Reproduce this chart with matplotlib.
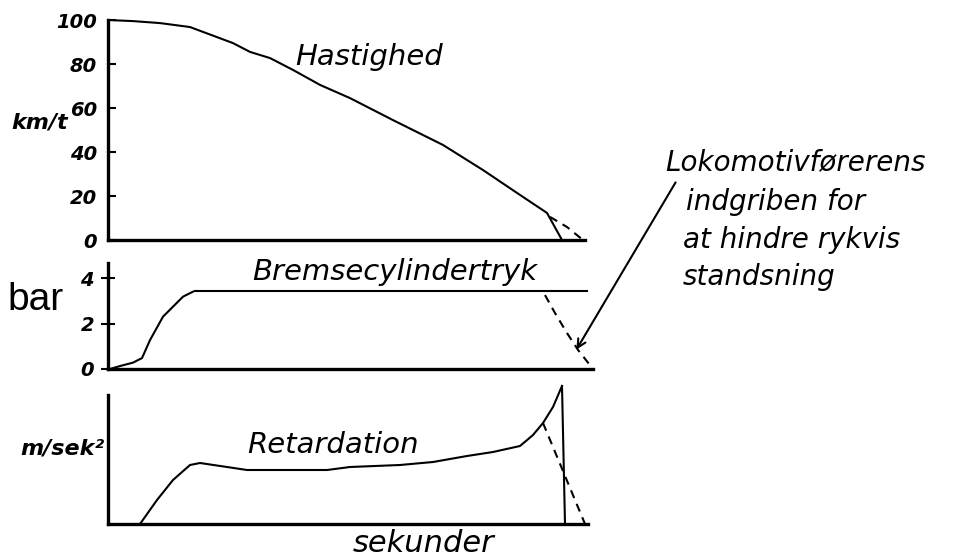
import matplotlib
matplotlib.use("Agg")
import matplotlib.pyplot as plt

# --- data (t in s, arbitrary scale) ---
speed_t = [0, 2.5, 5.2, 8.2, 12.5, 14.2, 16.2, 18.5, 21.2, 24.2, 28.5, 33.5, 37.5, 40.9, 43.9, 45.4]
speed_v = [100, 99.5, 98.6, 96.8, 89.5, 85.5, 82.7, 77.3, 70.5, 64.5, 54.5, 43.2, 31.8, 21.4, 12.3, 0]
speed_dash_t = [44.2, 45.9, 47.5]
speed_dash_v = [10.5, 5.9, 0]

press_t = [0, 0.2, 1.2, 2.5, 3.4, 4.2, 5.5, 6.5, 7.5, 8.5]
press_p = [0, 0.0, 0.13, 0.28, 0.48, 1.27, 2.3, 2.74, 3.18, 3.4]
press_plateau_t = [8.7, 47.9]
press_plateau_p = [3.44, 3.44]
press_dash_t = [43.7, 44.7, 45.9, 47.0, 48.5]
press_dash_p = [3.25, 2.46, 1.58, 0.84, 0]

ret_t = [3.2, 4.9, 6.5, 8.2, 9.2, 11.9, 13.9, 17.5, 21.9, 24.2, 29.2, 32.5, 35.9,
         38.5, 41.2, 42.5, 43.5, 44.5, 45.4]
ret_a = [0, 0.24, 0.44, 0.59, 0.61, 0.57, 0.54, 0.54, 0.54, 0.57, 0.59, 0.62, 0.68,
         0.72, 0.78, 0.89, 1.01, 1.17, 1.38]
ret_drop_t = [45.4, 45.7]
ret_drop_a = [1.38, 0]
ret_dash_t = [43.5, 47.7]
ret_dash_a = [1.01, 0]

speed_ticks = [0, 20, 40, 60, 80, 100]
press_ticks = [0, 2, 4]

W, H = 962, 557


def px(x, y):
    """pixel position -> figure fraction"""
    return x / W, 1 - y / H


def box(x0, y_bottom, x1, y_top):
    return [x0 / W, 1 - y_bottom / H, (x1 - x0) / W, (y_bottom - y_top) / H]


HAND = dict(family="DejaVu Sans", style="italic", color="black")
TICKF = dict(family="DejaVu Sans", style="italic", weight="bold", size=14)
LW = 1.5
DASH = (0, (4, 3))

fig = plt.figure(figsize=(W / 100, H / 100), dpi=100)
XMAX = 48.5

ax1 = fig.add_axes(box(108, 240, 593, 20))
ax2 = fig.add_axes(box(108, 369, 593, 263))
ax3 = fig.add_axes(box(108, 524, 593, 395))

for ax in (ax1, ax2, ax3):
    ax.set_xlim(0, XMAX)
    for s in ("top", "right"):
        ax.spines[s].set_visible(False)
    for s in ("left", "bottom"):
        ax.spines[s].set_linewidth(2.4)
    ax.set_xticks([])
    ax.patch.set_alpha(0)

# speed
ax1.plot(speed_t, speed_v, color="black", lw=LW, clip_on=False, solid_joinstyle="round")
ax1.plot(speed_dash_t, speed_dash_v, color="black", lw=LW, ls=DASH, clip_on=False)
ax1.set_ylim(0, 100)
ax1.spines["bottom"].set_bounds(0, 47.7)
ax1.set_yticks(speed_ticks)
ax1.set_yticklabels([str(v) for v in speed_ticks], fontdict=TICKF)
ax1.tick_params(axis="y", direction="in", length=6, width=1.5, pad=8)

# brake cylinder pressure
ax2.plot(press_t, press_p, color="black", lw=LW, clip_on=False, solid_joinstyle="round")
ax2.plot(press_plateau_t, press_plateau_p, color="black", lw=LW, clip_on=False)
ax2.plot(press_dash_t, press_dash_p, color="black", lw=LW, ls=DASH, clip_on=False)
ax2.set_ylim(0, 4.66)
ax2.set_yticks(press_ticks)
ax2.set_yticklabels([str(v) for v in press_ticks], fontdict=TICKF)
ax2.tick_params(axis="y", direction="inout", length=10, width=1.5, pad=5)

# retardation
ax3.plot(ret_t, ret_a, color="black", lw=LW, clip_on=False, solid_joinstyle="round")
ax3.plot(ret_drop_t, ret_drop_a, color="black", lw=LW, clip_on=False)
ax3.plot(ret_dash_t, ret_dash_a, color="black", lw=LW, ls=DASH, clip_on=False)
ax3.set_ylim(0, 1.29)
ax3.spines["bottom"].set_bounds(0, 48.0)
ax3.set_yticks([])

# labels
fig.text(*px(295, 65), "Hastighed", fontsize=21, ha="left", va="baseline", **HAND)
fig.text(*px(252, 280), "Bremsecylindertryk", fontsize=21, ha="left", va="baseline", **HAND)
fig.text(*px(247, 453), "Retardation", fontsize=21, ha="left", va="baseline", **HAND)
fig.text(*px(353, 552), "sekunder", fontsize=22, ha="left", va="baseline", **HAND)

fig.text(*px(40, 122), "km/t", fontsize=16, ha="center", va="center", weight="bold", **HAND)
fig.text(*px(36, 300), "bar", fontsize=28, ha="center", va="center",
         family="Liberation Sans", color="black")
fig.text(*px(62, 448), "m/sek²", fontsize=16, ha="center", va="center", weight="bold", **HAND)

note_lines = [(665, 170, "Lokomotivførerens"),
              (686, 210, "indgriben for"),
              (683, 248, "at hindre rykvis"),
              (683, 285, "standsning")]
for x, y, s in note_lines:
    fig.text(*px(x, y), s, fontsize=20, ha="left", va="baseline", **HAND)

fig.add_artist(matplotlib.patches.FancyArrowPatch(
    px(677, 180), px(575, 352), transform=fig.transFigure,
    arrowstyle="->,head_length=6,head_width=3", color="black", lw=1.5))

fig.savefig("out.png", dpi=100)
